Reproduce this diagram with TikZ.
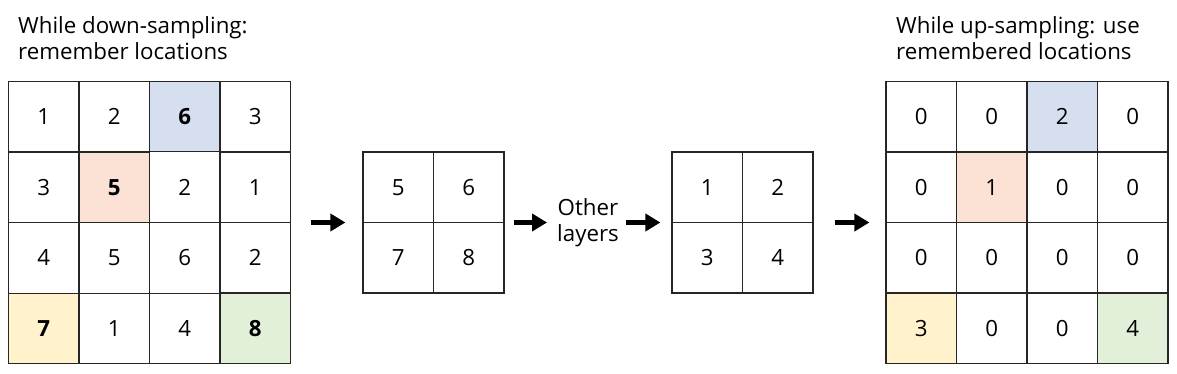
\documentclass[tikz,border=0pt]{standalone}
\usepackage{fontspec}
\setmainfont{Open Sans}
\usetikzlibrary{matrix,arrows.meta,positioning}

\definecolor{cellblue}{HTML}{D6DFEF}
\definecolor{cellorange}{HTML}{FBE2D5}
\definecolor{cellyellow}{HTML}{FFF2CC}
\definecolor{cellgreen}{HTML}{E2F0D9}

\begin{document}
\begin{tikzpicture}[x=1pt, y=-1pt, font=\fontsize{22.3}{26}\selectfont]

% --- Define Styles ---
\tikzset{
    cell/.style={draw=black!85, line width=1.2pt, minimum size=70.5pt, inner sep=0pt, outer sep=0pt},
    grid/.style={matrix of nodes, nodes={cell}, column sep=-1.2pt, row sep=-1.2pt, inner sep=0pt, outer sep=0pt},
    push/.style={line width=5pt, -{Triangle[length=15pt, width=17pt]}},
    caption/.style={align=left, inner sep=0pt, anchor=base west},
    hb/.style={fill=cellblue},
    ho/.style={fill=cellorange},
    hy/.style={fill=cellyellow},
    hg/.style={fill=cellgreen}
}

\useasboundingbox (0,0) rectangle (1177,374);

% ================= 1. DOWN-SAMPLING INPUT =================
\node[caption] (downtitle) at (18,60) {While down-sampling:\\remember locations};
\matrix[grid] (input) at (149.5,222.5) {
    1 & 2 & |[hb]| \textbf{6} & 3 \\
    3 & |[ho]| \textbf{5} & 2 & 1 \\
    4 & 5 & 6 & 2 \\
    |[hy]| \textbf{7} & 1 & 4 & |[hg]| \textbf{8} \\
};

% ================= 2. POOLED =================
\matrix[grid] (pool) at (433.5,222.5) {
    5 & 6 \\
    7 & 8 \\
};
\node[align=center, inner sep=0pt] (other) at (588,223) {Other\\layers};
\matrix[grid] (small) at (742.5,222.5) {
    1 & 2 \\
    3 & 4 \\
};

% ================= 3. UP-SAMPLING OUTPUT =================
\node[caption] (uptitle) at (896,60) {While up-sampling: use\\remembered locations};
\matrix[grid] (output) at (1027,222.5) {
    0 & 0 & |[hb]| 2 & 0 \\
    0 & |[ho]| 1 & 0 & 0 \\
    0 & 0 & 0 & 0 \\
    |[hy]| 3 & 0 & 0 & |[hg]| 4 \\
};

% Arrows
\draw[push, shorten <=20pt, shorten >=17pt] (input.east) -- (pool.west);
\draw[push, shorten <=9pt, shorten >=10pt] (pool.east) -- (other.west |- pool.west);
\draw[push, shorten <=7pt, shorten >=11pt] (other.east |- small.west) -- (small.west);
\draw[push, shorten <=21pt, shorten >=16pt] (small.east) -- (output.west);

\end{tikzpicture}
\end{document}
